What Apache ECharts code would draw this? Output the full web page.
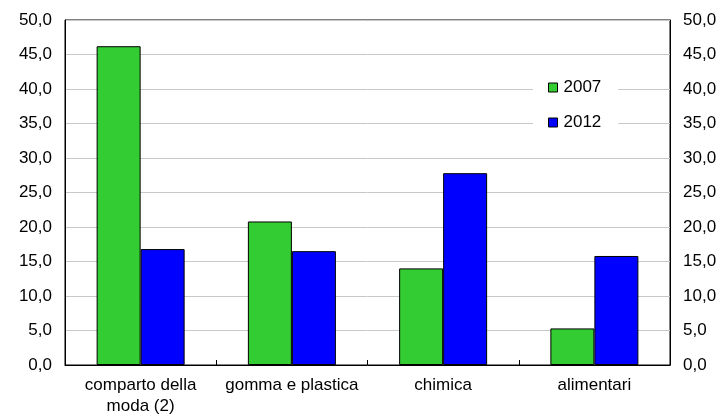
<!DOCTYPE html>
<html>
<head>
<meta charset="utf-8">
<script src="https://cdn.jsdelivr.net/npm/echarts@6/dist/echarts.min.js"></script>
<style>
  html, body { margin: 0; padding: 0; background: #fff; }
  #chart { width: 722px; height: 417px; }
</style>
</head>
<body>
<div id="chart"></div>
<script>
// Sector categories and the two survey years
const categories = ['comparto della\nmoda (2)', 'gomma e plastica', 'chimica', 'alimentari'];
const values2007 = [46.2, 20.8, 14.0, 5.3];
const values2012 = [16.8, 16.5, 27.8, 15.8];
const yTicks = [0, 5, 10, 15, 20, 25, 30, 35, 40, 45, 50];

const fmt = v => v.toFixed(1).replace('.', ',');
const font = 'Liberation Sans, Arial, sans-serif';
const fs = 17;

const yAxisBase = {
  type: 'value',
  min: yTicks[0],
  max: yTicks[yTicks.length - 1],
  interval: yTicks[1] - yTicks[0],
  axisLine: { show: true, lineStyle: { color: '#000', width: 1 } },
  axisTick: { show: false },
  axisLabel: { formatter: fmt, color: '#000', fontSize: fs, fontFamily: font, margin: 13 }
};

const chart = echarts.init(document.getElementById('chart'));
chart.setOption({
  animation: false,
  grid: { left: 65, right: 52, top: 20, bottom: 52, show: true, borderColor: '#000', borderWidth: 1 },
  legend: {
    orient: 'vertical',
    left: 533,
    top: 73,
    padding: [6, 17, 6, 15],
    backgroundColor: '#fff',
    itemWidth: 9,
    itemHeight: 9,
    itemGap: 18,
    icon: 'rect',
    textStyle: { color: '#000', fontSize: fs, fontFamily: font, padding: [0, 0, 0, 1] },
    itemStyle: { borderColor: '#000', borderWidth: 1 },
    data: ['2007', '2012']
  },
  xAxis: {
    type: 'category',
    data: categories,
    axisLine: { lineStyle: { color: '#000', width: 1 } },
    axisTick: { show: true, inside: true, length: 5, interval: 0, lineStyle: { color: '#000' } },
    axisLabel: { interval: 0, hideOverlap: false, color: '#000', fontSize: fs, fontFamily: font, margin: 10, lineHeight: 21 }
  },
  yAxis: [
    Object.assign({}, yAxisBase, {
      position: 'left',
      splitLine: { show: true, lineStyle: { color: '#c8c8c8', width: 1 } }
    }),
    Object.assign({}, yAxisBase, {
      position: 'right',
      splitLine: { show: false }
    })
  ],
  series: [
    {
      name: '2007', type: 'bar', data: values2007, barWidth: 44, barGap: '0%',
      itemStyle: { color: '#33cc33', borderColor: '#000', borderWidth: 1 }
    },
    {
      name: '2012', type: 'bar', data: values2012, barWidth: 44, barGap: '0%',
      itemStyle: { color: '#0000ff', borderColor: '#000', borderWidth: 1 }
    }
  ]
});
</script>
</body>
</html>
